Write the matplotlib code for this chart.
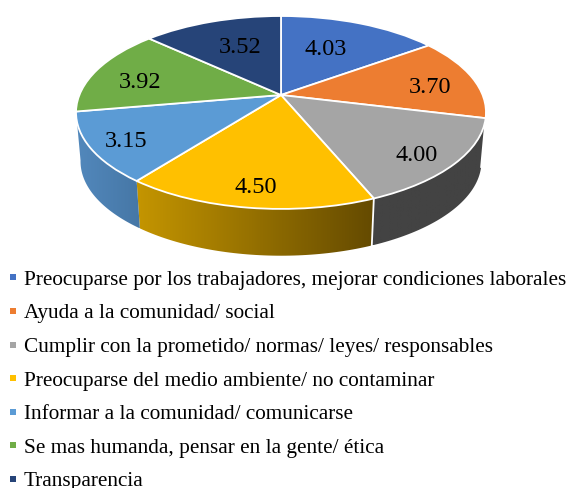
"""Perspective pie chart with a side wall, drawn on a pixel-sized axes."""

import matplotlib

matplotlib.use("Agg")

import matplotlib.pyplot as plt
import numpy as np
from matplotlib.colors import LinearSegmentedColormap
from matplotlib.lines import Line2D
from matplotlib.patches import Polygon
from matplotlib.transforms import Transform

plt.rcParams["font.family"] = ["Liberation Serif", "DejaVu Serif"]

categories = [
    "Preocuparse por los trabajadores, mejorar condiciones laborales",
    "Ayuda a la comunidad/ social",
    "Cumplir con la prometido/ normas/ leyes/ responsables",
    "Preocuparse del medio ambiente/ no contaminar",
    "Informar a la comunidad/ comunicarse",
    "Se mas humanda, pensar en la gente/ ética",
    "Transparencia",
]
values = [4.03, 3.70, 4.00, 4.50, 3.15, 3.92, 3.52]

colors = ["#4472C4", "#ED7D31", "#A5A5A5", "#FFC000", "#5B9BD5", "#70AD47", "#264478"]
# only the slices facing the viewer show a wall
wall_colors = {
    2: ("#434343", "#434343"),
    3: ("#C49500", "#644A00"),
    4: ("#5288BC", "#4677A6"),
}
# how far out along each slice the value label sits (1 = rim)
label_radius = [0.62, 0.75, 0.80, 0.83, 0.83, 0.75, 0.60]
# fine adjustment of the value labels, in pixels (x right, y down)
label_nudge = [(-7, 1), (4, 6), (0, 7), (1, 2), (1, 3), (-1, 7), (3, -1)]


class DiskPerspective(Transform):
    """Map the unit disk onto the tilted pie face, in pixel coordinates."""

    input_dims = 2
    output_dims = 2

    def __init__(self, shrink=1.0, drop=0.0):
        super().__init__()
        self.shrink = shrink
        self.drop = drop

    def transform_non_affine(self, values):
        values = np.asarray(values, dtype=float)
        u, v = values[:, 0], values[:, 1]
        depth = 1 + 0.181 * v
        x = 281 + self.shrink * 201.6 * u / depth
        y = 95 - self.shrink * 93.3 * v / depth + self.drop
        return np.column_stack([x, y])


top_face = DiskPerspective()
bottom_rim = DiskPerspective(shrink=0.978, drop=49.3)

fig = plt.figure(figsize=(5.71, 4.88), dpi=100)
ax = fig.add_axes([0, 0, 1, 1])

wedges, _ = ax.pie(
    values,
    startangle=90,
    counterclock=False,
    colors=colors,
    wedgeprops={"edgecolor": "white", "linewidth": 1.3, "zorder": 5},
)

# pie() sets its own limits, the axes works in picture pixels from here on
ax.set_aspect("auto")
ax.axis("off")

for wedge in wedges:
    wedge.set_transform(top_face + ax.transData)

# side walls
for i, wall in wall_colors.items():
    wedge = wedges[i]
    theta = np.radians(np.linspace(wedge.theta1, wedge.theta2, 60))
    rim = np.column_stack([np.cos(theta), np.sin(theta)])
    upper = top_face.transform_non_affine(rim)
    lower = bottom_rim.transform_non_affine(rim)
    outline = np.vstack([upper, lower[::-1]])
    left, right = outline[:, 0].min(), outline[:, 0].max()
    low, high = outline[:, 1].min(), outline[:, 1].max()

    patch = Polygon(outline, closed=True, facecolor="none", edgecolor="none", zorder=3)
    ax.add_patch(patch)

    cmap = LinearSegmentedColormap.from_list(f"wall{i}", wall)
    image = ax.imshow(
        np.linspace(0, 1, 128).reshape(1, -1),
        extent=(left, right, high, low),
        cmap=cmap,
        aspect="auto",
        zorder=2,
    )
    image.set_clip_path(patch)

    # white seam where this wall meets the next one along the front
    if i + 1 in wall_colors:
        ax.plot([upper[-1, 0], lower[-1, 0]], [upper[-1, 1], lower[-1, 1]],
                color="white", linewidth=1.3, zorder=4)

ax.set_xlim(0, 571)
ax.set_ylim(488, 0)

# value labels
for wedge, value, radius, nudge in zip(wedges, values, label_radius, label_nudge):
    mid = np.radians((wedge.theta1 + wedge.theta2) / 2)
    anchor = top_face.transform_non_affine([[radius * np.cos(mid), radius * np.sin(mid)]])[0]
    ax.text(
        anchor[0] + nudge[0],
        anchor[1] + nudge[1],
        f"{value:.2f}",
        ha="center",
        va="center",
        fontsize=17.5,
        color="black",
        zorder=6,
    )

handles = [
    Line2D([], [], linestyle="none", marker="s", markersize=4.4,
           markerfacecolor=color, markeredgewidth=0)
    for color in colors
]
ax.legend(
    handles,
    categories,
    loc="upper left",
    bbox_to_anchor=(9.2, 270),
    bbox_transform=ax.transData,
    frameon=False,
    fontsize=15.27,
    borderpad=0,
    borderaxespad=0,
    handlelength=0.4,
    handletextpad=0.3,
    labelspacing=0.647,
)

fig.savefig("out.png", dpi=100)
